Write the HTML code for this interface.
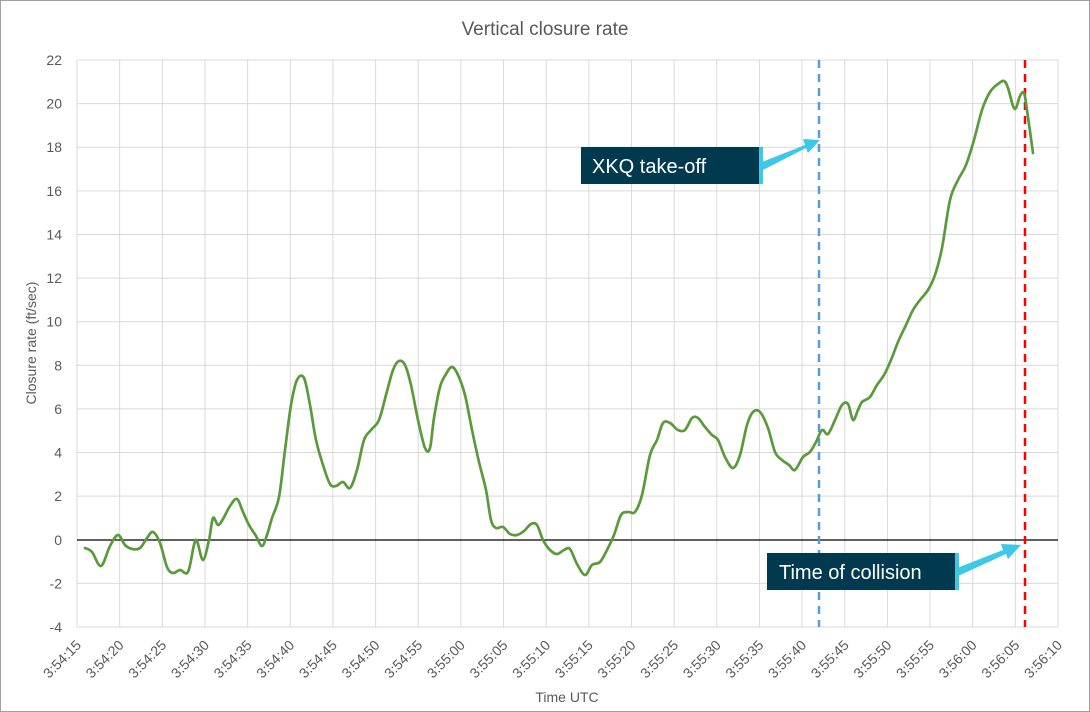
<!DOCTYPE html>
<html><head><meta charset="utf-8"><style>
body{margin:0;background:#fff}
svg{display:block;font-family:"Liberation Sans",sans-serif}
</style></head><body>
<svg width="1090" height="712" viewBox="0 0 1090 712" xmlns="http://www.w3.org/2000/svg">
<rect x="0.5" y="0.5" width="1089" height="711" fill="#fff" stroke="#a0a0a0"/>
<text x="545" y="35" text-anchor="middle" font-size="19" fill="#595959">Vertical closure rate</text>
<g id="grid" stroke="#d9d9d9" stroke-width="1"></g>
<line x1="77" y1="540" x2="1058" y2="540" stroke="#000" stroke-width="1.3"/>
<g id="ylab" font-size="14" fill="#595959" text-anchor="end"></g>
<g id="xlab" font-size="14" fill="#595959"></g>
<text x="36" y="343" font-size="14" fill="#595959" text-anchor="middle" transform="rotate(-90 36 343)">Closure rate (ft/sec)</text>
<text x="567" y="702" font-size="14" fill="#595959" text-anchor="middle">Time UTC</text>
<line x1="819" y1="60" x2="819" y2="627" stroke="#5b9bd5" stroke-width="2.5" stroke-dasharray="8,6"/>
<line x1="1025" y1="60" x2="1025" y2="627" stroke="#ff0000" stroke-width="2.5" stroke-dasharray="8,6"/>
<path id="data" fill="none" stroke="#5b9a3b" stroke-width="2.7" stroke-linejoin="round" stroke-linecap="round" d=""/>
<g>
<polygon points="762,162 805,145 803,139 820,140 808,153 806,148 763,170" fill="#3ec8e8"/>
<rect x="581" y="147" width="182" height="37" fill="#013a4f"/>
<rect x="759" y="147" width="4" height="37" fill="#3ec8e8"/>
<text x="592" y="173" font-size="20" fill="#fff">XKQ take-off</text>
<polygon points="957,568 1003,550 1001,544 1021,545 1008,559 1006,554 958,576" fill="#3ec8e8"/>
<rect x="767" y="553" width="191" height="37" fill="#013a4f"/>
<rect x="955" y="553" width="4" height="37" fill="#3ec8e8"/>
<text x="779" y="579" font-size="20" fill="#fff">Time of collision</text>
</g>
</svg>
<script>
var g=document.getElementById('grid'),yl=document.getElementById('ylab'),xl=document.getElementById('xlab'),ns='http://www.w3.org/2000/svg';
function el(p,t,a,txt){var e=document.createElementNS(ns,t);for(var k in a)e.setAttribute(k,a[k]);if(txt!=null)e.textContent=txt;p.appendChild(e);return e;}
for(var v=-4;v<=22;v+=2){var y=627-(v+4)*567/26;if(v!=0)el(g,'line',{x1:77,x2:1058,y1:y,y2:y});el(yl,'text',{x:62,y:y+5},v);}
for(var i=0;i<24;i++){var x=77+i*981/23;el(g,'line',{x1:x,x2:x,y1:60,y2:627});var s=15+i*5,m=54+Math.floor(s/60);s=s%60;var lab='3:'+m+':'+(s<10?'0'+s:s);
var ax=x+5,ay=646;el(xl,'text',{x:ax,y:ay,'text-anchor':'end',transform:'rotate(-45 '+ax+' '+ay+')'},lab);}
var pts="85,548 92,552 101,566 110,546 118,535 125,545 132,549 140,548 147,538 153,532 160,543 167,567 173,573 180,570 188,572 194,545 197,541 203,560 209,540 213,518 218,525 223,519 230,506 237,499 243,512 249,525 256,536 262,546 267,535 272,518 279,497 285,450 291,405 297,380 304,378 310,405 316,440 323,465 330,484 336,486 343,482 350,488 357,470 364,440 371,430 379,420 386,395 393,370 399,361 405,365 411,385 418,420 425,448 430,448 434,418 440,387 446,374 452,367 458,375 465,395 472,430 479,462 486,490 491,520 496,528 503,527 510,534 517,535 524,531 531,524 537,525 543,540 550,550 557,554 564,550 570,549 577,564 585,575 592,565 600,562 607,550 614,535 621,515 628,512 635,512 642,495 650,455 657,440 663,423 670,423 678,430 685,430 692,418 698,418 705,427 712,435 718,440 725,457 733,468 740,455 747,425 753,412 760,412 768,428 775,452 782,460 789,465 795,470 803,457 810,452 816,442 822,430 828,434 835,420 842,405 848,404 853,420 858,410 862,402 870,397 877,385 884,375 891,360 898,342 906,325 913,310 920,300 928,290 935,275 942,248 950,200 958,180 966,165 974,140 982,110 990,92 998,84 1004,81 1008,88 1013,106 1016,108 1020,96 1024,93 1027,110 1033,153".split(' ').map(function(p){return p.split(',').map(Number);});
var d='M'+pts[0][0]+','+pts[0][1];
for(var j=0;j<pts.length-1;j++){var p0=pts[Math.max(0,j-1)],p1=pts[j],p2=pts[j+1],p3=pts[Math.min(pts.length-1,j+2)];
d+=' C'+(p1[0]+(p2[0]-p0[0])/6)+','+(p1[1]+(p2[1]-p0[1])/6)+' '+(p2[0]-(p3[0]-p1[0])/6)+','+(p2[1]-(p3[1]-p1[1])/6)+' '+p2[0]+','+p2[1];}
document.getElementById('data').setAttribute('d',d);
</script>
</body></html>
